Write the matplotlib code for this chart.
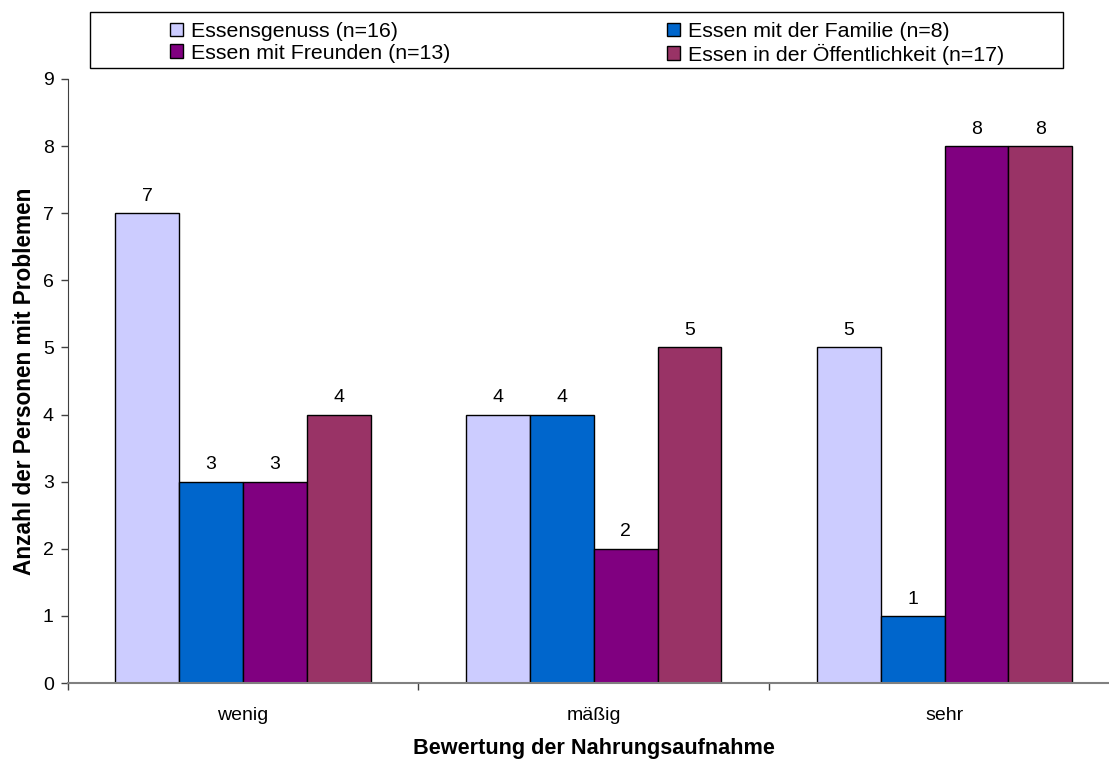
import matplotlib.pyplot as plt
import numpy as np

plt.rcParams['font.family'] = ['Liberation Sans', 'DejaVu Sans']

categories = ['wenig', 'mäßig', 'sehr']
series_names = ['Essensgenuss (n=16)', 'Essen mit der Familie (n=8)',
                'Essen mit Freunden (n=13)', 'Essen in der Öffentlichkeit (n=17)']
genuss = [7, 4, 5]
familie = [3, 4, 1]
freunde = [3, 2, 8]
oeffentlich = [4, 5, 8]
values = [genuss, familie, freunde, oeffentlich]
colors = ['#CCCCFF', '#0066CC', '#800080', '#993366']

fig = plt.figure(figsize=(11.09, 7.63), dpi=100)
ax = fig.add_axes([0.0609, 0.1048, 0.9490, 0.7917])

x = np.arange(len(categories)) + 0.5
width = 0.182
bars = []
for i, (vals, col) in enumerate(zip(values, colors)):
    b = ax.bar(x + (i - 1.5) * width, vals, width, color=col,
               edgecolor='black', linewidth=1.0, label=series_names[i])
    bars.append(b)
    for rect, v in zip(b, vals):
        ax.annotate(str(v), (rect.get_x() + rect.get_width() / 2, v),
                    xytext=(0, 6), textcoords='offset points',
                    ha='center', va='bottom', fontsize=14)

ax.set_xlim(0, 3)
ax.set_ylim(0, 9)
ax.set_yticks(range(10))
ax.tick_params(axis='y', labelsize=14, length=5, width=1, color='#404040', pad=5)

# category boundaries as ticks, names centered between them
ax.set_xticks([0, 1, 2, 3])
ax.set_xticklabels([])
ax.set_xticks(x, minor=True)
ax.set_xticklabels(categories, minor=True)
ax.tick_params(axis='x', which='major', length=5, width=1, color='#404040')
ax.tick_params(axis='x', which='minor', length=0, labelsize=14, pad=17)

for s in ['top', 'right']:
    ax.spines[s].set_visible(False)
ax.spines['left'].set_color('#404040')
ax.spines['bottom'].set_color('#808080')
ax.spines['bottom'].set_linewidth(1.5)

ax.set_xlabel('Bewertung der Nahrungsaufnahme', fontsize=15.6, fontweight='bold')
ax.xaxis.label.set_va('center')
ax.xaxis.set_label_coords(0.5, -0.109)
ax.set_ylabel('Anzahl der Personen mit Problemen', fontsize=16.3, fontweight='bold')
ax.yaxis.label.set_va('center')
ax.yaxis.set_label_coords(-0.0413, 0.5)

# legend: two columns inside a framed box above the plot
handles = [bars[0], bars[2], bars[1], bars[3]]
labels = [series_names[0], series_names[2], series_names[1], series_names[3]]
leg = fig.legend(handles, labels, ncol=2, frameon=False, fontsize=15.4,
                 loc='upper left', bbox_to_anchor=(170 / 1109, 1 - 22 / 763),
                 borderpad=0, borderaxespad=0, handlelength=0.6, handleheight=0.6,
                 handletextpad=0.4, columnspacing=10.1, labelspacing=0.12)
box = plt.Rectangle((90 / 1109, 1 - 68 / 763), 973 / 1109, 56 / 763,
                    transform=fig.transFigure, fill=False, edgecolor='black',
                    linewidth=1.0)
fig.patches.append(box)

fig.savefig('out.png', dpi=100)
